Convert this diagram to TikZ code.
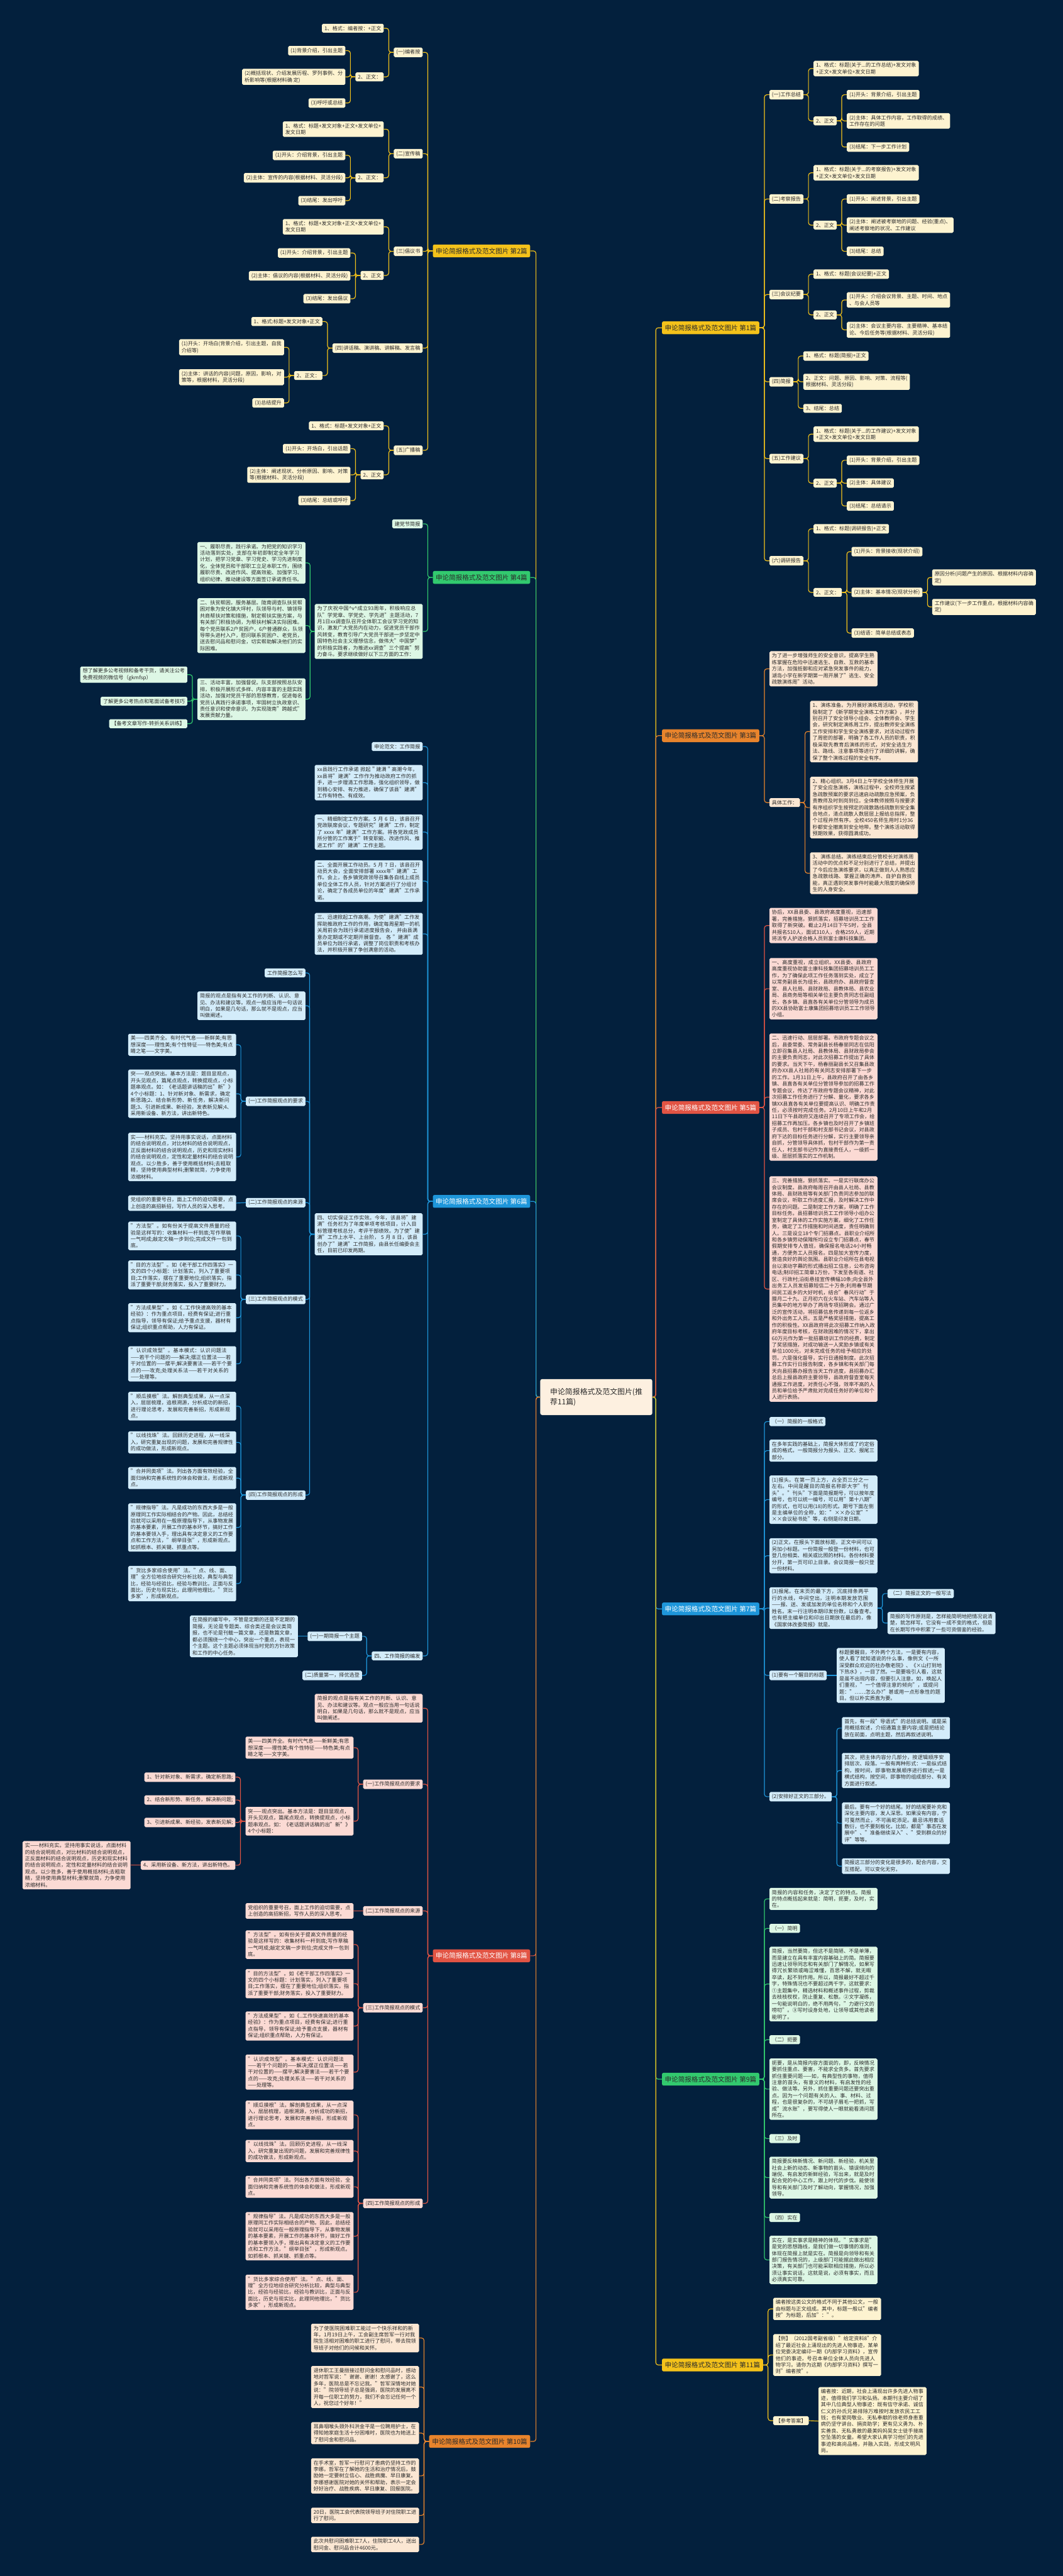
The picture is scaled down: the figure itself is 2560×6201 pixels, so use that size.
\documentclass[tikz,border=0pt]{standalone}
\usepackage{fontspec}
\setmainfont{Noto Sans CJK SC}
\usepackage{xcolor}
\usepackage{tikz}
\usetikzlibrary{calc, positioning}
\XeTeXlinebreaklocale "zh"
\XeTeXlinebreakskip=0pt plus 1pt
\definecolor{bgnavy}{HTML}{03203D}
\definecolor{ink}{HTML}{2B2B2B}
\definecolor{rootfill}{HTML}{FDF0E0}
\definecolor{ygold}{HTML}{F4C21A}
\definecolor{ycream}{HTML}{FDF3D0}
\definecolor{ggreen}{HTML}{32C96E}
\definecolor{gmint}{HTML}{DDF7E5}
\definecolor{bblue}{HTML}{1E96DA}
\definecolor{bsky}{HTML}{D3ECFA}
\definecolor{rred}{HTML}{E25444}
\definecolor{rpink}{HTML}{FBDAD4}
\definecolor{oorange}{HTML}{E8842C}
\definecolor{opeach}{HTML}{FBE7D3}
\newcommand\leaf{\fontsize{12.3}{15.8}\selectfont}
\newcommand\headf{\fontsize{16}{20}\selectfont}
\newcommand\rootf{\fontsize{18}{24}\selectfont}
% texts used twice (第6篇 and 第8篇)
\newcommand\ptView{简报的观点是指有关工作的判断、认识、意见、办法和建议等。观点一般应当用一句话说明白，如果是几句话，那么就不是观点，应当叫做阐述。}
\newcommand\ptMei{美——四美齐全。有时代气息——新鲜美;有思想深度——理性美;有个性特征——特色美;有点睛之笔——文字美。}
\newcommand\ptShi{实——材料充实。坚持用事实说话，点面材料的结合说明观点，对比材料的结合说明观点，正反面材料的结合说明观点，历史和现实材料的结合说明观点，定性和定量材料的结合说明观点。以少胜多，善于使用概括材料;去粗取精，坚持使用典型材料;删繁就简，力争使用浓缩材料。}
\newcommand\ptSource{党组织的重要号召，面上工作的迫切需要，点上创造的高招新招，写作人员的深入思考。}
\newcommand\ptFa{"方法型"。如有份关于提高文件质量的经验是这样写的：收集材料一杆到底;写作草稿一气呵成;敲定文稿一步到位;完成文件一包到底。}
\newcommand\ptMu{"目的方法型"。如《老干部工作四落实》一文的四个小标题：计划落实，列入了重要项目;工作落实，摆在了重要地位;组织落实，指派了重要干部;财务落实，投入了重要财力。}
\newcommand\ptCheng{"方法成果型"。如《..工作快速高效的基本经验》：作为重点项目，经费有保证;进行重点指导，领导有保证;给予重点支援，器材有保证;组织重点帮助，人力有保证。}
\newcommand\ptRen{"认识成效型"。基本模式：认识问题法——若干个问题的——解决;摆正位置法——若干对位置的——摆平;解决要害法——若干个要点的——攻克;处理关系法——若干对关系的——处理等。}
\newcommand\ptGua{"顺瓜摸根"法。解剖典型成果，从一点深入，层层梳理，追根溯源，分析成功的新招，进行理论思考，发展和完善新招，形成新观点。}
\newcommand\ptXian{"以线找珠"法。回顾历史进程，从一线深入，研究重复出现的问题，发展和完善规律性的成功做法，形成新观点。}
\newcommand\ptHe{"合并同类项"法。列出各方面有效经验，全面归纳和完善系统性的体会和做法，形成新观点。}
\newcommand\ptGui{"规律指导"法。凡是成功的东西大多是一般原理同工作实际相结合的产物。因此，总结经验就可以采用在一般原理指导下，从事物发展的基本要素，开展工作的基本环节，搞好工作的基本要领入手，理出具有决定意义的工作要点和工作方法，"纲举目张"，形成新观点。如抓根本、抓关键、抓重点等。}
\newcommand\ptHuo{"货比多家综合使用"法。"点、线、面、理"全方位地综合研究分析比较，典型与典型比，经验与经验比，经验与教训比，正面与反面比，历史与现实比，此理同他理比，"货比多家"，形成新观点。}

\begin{document}
\begin{tikzpicture}[x=1pt, y=-1pt,
    card/.style={rounded corners=3pt, inner xsep=6pt, inner ysep=5pt, align=left, text=ink, font=\leaf},
    wide/.style={text width=248pt},
    ycard/.style={card, fill=ycream},
    gcard/.style={card, fill=gmint},
    bcard/.style={card, fill=bsky},
    rcard/.style={card, fill=rpink},
    ocard/.style={card, fill=opeach},
    head/.style={rounded corners=4pt, inner xsep=7pt, inner ysep=8pt, font=\headf},
    yhead/.style={head, fill=ygold, text=ink},
    ghead/.style={head, fill=ggreen, text=ink},
    bhead/.style={head, fill=bblue, text=white},
    rhead/.style={head, fill=rred, text=white},
    ohead/.style={head, fill=oorange, text=ink},
    rootnode/.style={rounded corners=5pt, fill=rootfill, text=ink, font=\rootf, align=left, inner xsep=24pt, inner ysep=22pt},
    wire/.style={line width=1.8pt, rounded corners=6pt},
    ywire/.style={wire, draw=ygold},
    gwire/.style={wire, draw=ggreen},
    bwire/.style={wire, draw=bblue},
    rwire/.style={wire, draw=rred},
    owire/.style={wire, draw=oorange},
    lft/.style={anchor=east},
    rgt/.style={anchor=west}]

    \useasboundingbox (0,0) rectangle (2560,6201);
    \fill[bgnavy] (0,0) rectangle (2560,6201);

    % 中心
    \node[rootnode] (root) at (1436,3363) {申论简报格式及范文图片(推\\荐11篇)};

    % 各篇
    \node[yhead, lft] (b2) at (1277,604) {申论简报格式及范文图片 第2篇};
    \node[ghead, lft] (b4) at (1277,1390) {申论简报格式及范文图片 第4篇};
    \node[bhead, lft] (b6) at (1277,2892) {申论简报格式及范文图片 第6篇};
    \node[rhead, lft] (b8) at (1277,4708) {申论简报格式及范文图片 第8篇};
    \node[ohead, lft] (b10) at (1277,5877) {申论简报格式及范文图片 第10篇};
    \node[yhead, rgt] (b1) at (1594,789) {申论简报格式及范文图片 第1篇};
    \node[ohead, rgt] (b3) at (1594,1771) {申论简报格式及范文图片 第3篇};
    \node[rhead, rgt] (b5) at (1594,2666) {申论简报格式及范文图片 第5篇};
    \node[bhead, rgt] (b7) at (1594,3873) {申论简报格式及范文图片 第7篇};
    \node[ghead, rgt] (b9) at (1594,5005) {申论简报格式及范文图片 第9篇};
    \node[yhead, rgt] (b11) at (1594,5693) {申论简报格式及范文图片 第11篇};

    \draw[ywire] (root.west) -- ++(-10,0) |- (b2.east);
    \draw[gwire] (root.west) -- ++(-10,0) |- (b4.east);
    \draw[bwire] (root.west) -- ++(-10,0) |- (b6.east);
    \draw[rwire] (root.west) -- ++(-10,0) |- (b8.east);
    \draw[owire] (root.west) -- ++(-10,0) |- (b10.east);
    \draw[ywire] (root.east) -- ++(8,0) |- (b1.west);
    \draw[owire] (root.east) -- ++(8,0) |- (b3.west);
    \draw[rwire] (root.east) -- ++(8,0) |- (b5.west);
    \draw[bwire] (root.east) -- ++(8,0) |- (b7.west);
    \draw[gwire] (root.east) -- ++(8,0) |- (b9.west);
    \draw[ywire] (root.east) -- ++(8,0) |- (b11.west);

    % 第2篇
    \node[ycard, lft] (b2a) at ([xshift=-24pt]b2.west |- 0,126) {(一)编者按};
    \node[ycard, lft] (b2b) at ([xshift=-24pt]b2.west |- 0,370) {(二)宣传稿};
    \node[ycard, lft] (b2c) at ([xshift=-24pt]b2.west |- 0,605) {(三)倡议书};
    \node[ycard, lft] (b2d) at ([xshift=-24pt]b2.west |- 0,838) {(四)讲话稿、演讲稿、讲解稿、发言稿};
    \node[ycard, lft] (b2e) at ([xshift=-24pt]b2.west |- 0,1084) {(五)广播稿};
    \foreach \k in {b2a,b2b,b2c,b2d,b2e}
        \draw[ywire] (b2.west) -- ++(-12,0) |- (\k.east);

    \node[ycard, lft] (b2a1) at ([xshift=-24pt]b2a.west |- 0,68) {1、格式：编者按：+正文};
    \node[ycard, lft] (b2a2) at ([xshift=-24pt]b2a.west |- 0,185) {2、正文：};
    \node[ycard, lft] (b2a2a) at ([xshift=-24pt]b2a2.west |- 0,122) {(1)背景介绍，引出主题};
    \node[ycard, lft] (b2a2b) at ([xshift=-24pt]b2a2.west |- 0,185) {(2)概括现状、介绍发展历程、罗列事例、分\\析影响等(根据材料确 定)};
    \node[ycard, lft] (b2a2c) at ([xshift=-24pt]b2a2.west |- 0,248) {(3)呼吁或总结};

    \node[ycard, lft] (b2b1) at ([xshift=-24pt]b2b.west |- 0,311) {1、格式：标题+发文对象+正文+发文单位+\\发文日期};
    \node[ycard, lft] (b2b2) at ([xshift=-24pt]b2b.west |- 0,428) {2、正文：};
    \node[ycard, lft] (b2b2a) at ([xshift=-24pt]b2b2.west |- 0,374) {(1)开头：介绍背景，引出主题};
    \node[ycard, lft] (b2b2b) at ([xshift=-24pt]b2b2.west |- 0,428) {(2)主体：宣传的内容(根据材料、灵活分段)};
    \node[ycard, lft] (b2b2c) at ([xshift=-24pt]b2b2.west |- 0,483) {(3)结尾：发出呼吁};

    \node[ycard, lft] (b2c1) at ([xshift=-24pt]b2c.west |- 0,546) {1、格式：标题+发文对象+正文+发文单位+\\发文日期};
    \node[ycard, lft] (b2c2) at ([xshift=-24pt]b2c.west |- 0,663) {2、正文};
    \node[ycard, lft] (b2c2a) at ([xshift=-24pt]b2c2.west |- 0,609) {(1)开头：介绍背景，引出主题};
    \node[ycard, lft] (b2c2b) at ([xshift=-24pt]b2c2.west |- 0,664) {(2)主体：倡议的内容(根据材料、灵活分段)};
    \node[ycard, lft] (b2c2c) at ([xshift=-24pt]b2c2.west |- 0,719) {(3)结尾：发出倡议};

    \node[ycard, lft] (b2d1) at ([xshift=-24pt]b2d.west |- 0,774) {1、格式:标题+发文对象+正文};
    \node[ycard, lft] (b2d2) at ([xshift=-24pt]b2d.west |- 0,904) {2、正文：};
    \node[ycard, lft] (b2d2a) at ([xshift=-24pt]b2d2.west |- 0,836) {(1)开头：开场白(背景介绍，引出主题，自我\\介绍等)};
    \node[ycard, lft] (b2d2b) at ([xshift=-24pt]b2d2.west |- 0,908) {(2)主体：讲话的内容(问题，原因，影响，对\\策等，根据材料，灵活分段)};
    \node[ycard, lft] (b2d2c) at ([xshift=-24pt]b2d2.west |- 0,970) {(3)总结提升};

    \node[ycard, lft] (b2e1) at ([xshift=-24pt]b2e.west |- 0,1025) {1、格式：标题+发文对象+正文};
    \node[ycard, lft] (b2e2) at ([xshift=-24pt]b2e.west |- 0,1143) {2、正文};
    \node[ycard, lft] (b2e2a) at ([xshift=-24pt]b2e2.west |- 0,1080) {(1)开头：开场白，引出话题};
    \node[ycard, lft] (b2e2b) at ([xshift=-24pt]b2e2.west |- 0,1143) {(2)主体：阐述现状、分析原因、影响、对策\\等(根据材料、灵活分段)};
    \node[ycard, lft] (b2e2c) at ([xshift=-24pt]b2e2.west |- 0,1205) {(3)结尾：总结或呼吁};

    \foreach \p in {b2a,b2b,b2c,b2d,b2e}
        \foreach \q in {1,2}
            \draw[ywire] (\p.west) -- ++(-12,0) |- (\p\q.east);
    \foreach \p in {b2a2,b2b2,b2c2,b2d2,b2e2}
        \foreach \q in {a,b,c}
            \draw[ywire] (\p.west) -- ++(-12,0) |- (\p\q.east);

    % 第4篇
    \node[gcard, lft] (b4a) at ([xshift=-24pt]b4.west |- 0,1261) {建党节简报};
    \node[gcard, lft, wide] (b4b) at ([xshift=-24pt]b4.west |- 0,1520) {为了庆祝中国\textasciicircum{}v\textasciicircum{}成立93周年，积极响应总队"学党章、学党史、学先进"主题活动，7月1日xx调查队召开全体职工会议学习党的知识，激发广大党员内在动力，促进党员干部作风转变，教育引导广大党员干部进一步坚定中国特色社会主义理想信念，做伟大"中国梦"的积极实践者，为推进xx调查"三个提高"努力奋斗。要求继续做好以下三方面的工作：};
    \node[gcard, lft, wide] (b4b1) at ([xshift=-22pt]b4b.west |- 0,1355) {一、履职尽责，践行承诺。为把党的知识学习活动落到实处，支部在年初即制定全年学习计划，把学习党章、学习党史、学习先进制度化，全体党员和干部职工立足本职工作，围绕履职尽责、改进作风、提高效能、加强学习、组织纪律、推动建设等方面签订承诺责任书。};
    \node[gcard, lft, wide] (b4b2) at ([xshift=-22pt]b4b.west |- 0,1506) {二、扶贫帮困，服务基层。陇南调查队扶贫帮困对象为安化镇大坪村，队领导与村、镇领导共商帮扶对策和措施，制定帮扶实施方案，与有关部门积极协调，为帮扶村解决实际困难。每个党员联系2户贫困户，6户普通群众，队领导带头进村入户，慰问联系贫困户、老党员，送去慰问品和慰问金，切实帮助解决他们的实际困难。};
    \node[gcard, lft, wide] (b4b3) at ([xshift=-22pt]b4b.west |- 0,1683) {三、活动丰富，加强督促。队支部按照总队安排，积极开展形式多样、内容丰富的主题实践活动，加强对党员干部的思想教育，促进每名党员认真践行承诺事项，牢固树立执政意识、责任意识和使命意识。为实现陇南"跨越式"发展贡献力量。};
    \node[gcard, lft] (b4b3a) at ([xshift=-24pt]b4b3.west |- 0,1624) {想了解更多公考视频和备考干货，请关注公考\\免费视频的微信号（gkmfsp）};
    \node[gcard, lft] (b4b3b) at ([xshift=-24pt]b4b3.west |- 0,1688) {了解更多公考热点和笔面试备考技巧};
    \node[gcard, lft] (b4b3c) at ([xshift=-24pt]b4b3.west |- 0,1742) {【备考文章写作-转折关系训练】};
    \foreach \k in {b4a,b4b}
        \draw[gwire] (b4.west) -- ++(-12,0) |- (\k.east);
    \foreach \k in {b4b1,b4b2,b4b3}
        \draw[gwire] (b4b.west) -- ++(-11,0) |- (\k.east);
    \foreach \k in {b4b3a,b4b3b,b4b3c}
        \draw[gwire] (b4b3.west) -- ++(-12,0) |- (\k.east);

    % 第6篇
    \node[bcard, lft] (b6a) at ([xshift=-24pt]b6.west |- 0,1797) {申论范文：工作简报};
    \node[bcard, lft, wide] (b6b) at ([xshift=-24pt]b6.west |- 0,1884) {xx县践行工作承诺 掀起＂建满＂高潮今年，xx县将"建满"工作作为推动政府工作的抓手，进一步理清工作思路，强化组织领导，做到精心安排、有力推进，确保了该县"建满"工作有特色、有成效。};
    \node[bcard, lft, wide] (b6c) at ([xshift=-24pt]b6.west |- 0,2003) {一、精细制定工作方案。5 月 6 日，该县召开党政联席会议，专题研究"建满"工作，制定了 xxxx 年"建满"工作方案。将各党政成员所分管的工作寓于"转变职能、改进作风、推进工作"的"建满"工作主题。};
    \node[bcard, lft, wide] (b6d) at ([xshift=-24pt]b6.west |- 0,2121) {二、全面开展工作动员。5 月 7 日，该县召开动员大会，全面安排部署 xxxx年"建满"工作。会上，各乡镇党政领导召集各自线上成员单位全体工作人员，针对方案进行了分组讨论，确定了各成员单位的年度"建满"工作承诺。};
    \node[bcard, lft, wide] (b6e) at ([xshift=-24pt]b6.west |- 0,2248) {三、迅速掀起工作高潮。为使"建满"工作发挥助推政府工作的作用，确定每周星期一的机关周前会为践行承诺进度报告会， 并由县满意办定期或不定期开展督查。 各 "建满"成员单位为践行承诺，调整了岗位职责和考核办法，并积极开展了争创满意的活动。};
    \node[bcard, lft, wide] (b6f) at ([xshift=-24pt]b6.west |- 0,2971) {四、切实保证工作实效。今年，该县将"建满"任务栏为了年度单项考核项目，计入目标管理考核总分，考评干部绩效。为了使"建满"工作上水平、上台阶， 5 月 8 日，该县创办了"建满"工作简报，由县长任编委会主任，目前已印发两期。};
    \node[bcard, lft] (b6g) at ([xshift=-24pt]b6.west |- 0,3986) {四、工作简报的编发};
    \foreach \k in {b6a,b6b,b6c,b6d,b6e,b6f,b6g}
        \draw[bwire] (b6.west) -- ++(-12,0) |- (\k.east);

    \node[bcard, lft] (b6f1) at ([xshift=-22pt]b6f.west |- 0,2342) {工作简报怎么写};
    \node[bcard, lft, wide] (b6f2) at ([xshift=-22pt]b6f.west |- 0,2421) {\ptView};
    \node[bcard, lft] (b6f3) at ([xshift=-22pt]b6f.west |- 0,2651) {(一)工作简报观点的要求};
    \node[bcard, lft] (b6f4) at ([xshift=-22pt]b6f.west |- 0,2895) {(二)工作简报观点的来源};
    \node[bcard, lft] (b6f5) at ([xshift=-22pt]b6f.west |- 0,3128) {(三)工作简报观点的模式};
    \node[bcard, lft] (b6f6) at ([xshift=-22pt]b6f.west |- 0,3599) {(四)工作简报观点的形成};
    \foreach \k in {b6f1,b6f2,b6f3,b6f4,b6f5,b6f6}
        \draw[bwire] (b6f.west) -- ++(-12,0) |- (\k.east);

    \node[bcard, lft, wide] (b6f3a) at ([xshift=-23pt]b6f3.west |- 0,2515) {\ptMei};
    \node[bcard, lft, wide] (b6f3b) at ([xshift=-23pt]b6f3.west |- 0,2633) {突——观点突出。基本方法是：题目显观点，开头见观点，篇尾点观点，转换提观点，小标题串观点。如：《老话题讲话稿的出"新"》4个小标题：1、针对新对象、新需求，确定新思路;2、结合新形势、新任务，解决新问题;3、引进新成果、新经验，发表新见解;4、采用新设备、新方法，讲出新特色。};
    \node[bcard, lft, wide] (b6f3c) at ([xshift=-23pt]b6f3.west |- 0,2785) {\ptShi};
    \node[bcard, lft, wide] (b6f4a) at ([xshift=-23pt]b6f4.west |- 0,2896) {\ptSource};
    \node[bcard, lft, wide] (b6f5a) at ([xshift=-23pt]b6f5.west |- 0,2975) {\ptFa};
    \node[bcard, lft, wide] (b6f5b) at ([xshift=-23pt]b6f5.west |- 0,3069) {\ptMu};
    \node[bcard, lft, wide] (b6f5c) at ([xshift=-23pt]b6f5.west |- 0,3172) {\ptCheng};
    \node[bcard, lft, wide] (b6f5d) at ([xshift=-23pt]b6f5.west |- 0,3283) {\ptRen};
    \node[bcard, lft, wide] (b6f6a) at ([xshift=-23pt]b6f6.west |- 0,3385) {\ptGua};
    \node[bcard, lft, wide] (b6f6b) at ([xshift=-23pt]b6f6.west |- 0,3472) {\ptXian};
    \node[bcard, lft, wide] (b6f6c) at ([xshift=-23pt]b6f6.west |- 0,3558) {\ptHe};
    \node[bcard, lft, wide] (b6f6d) at ([xshift=-23pt]b6f6.west |- 0,3677) {\ptGui};
    \node[bcard, lft, wide] (b6f6e) at ([xshift=-23pt]b6f6.west |- 0,3812) {\ptHuo};
    \foreach \k in {b6f3a,b6f3b,b6f3c}
        \draw[bwire] (b6f3.west) -- ++(-12,0) |- (\k.east);
    \draw[bwire] (b6f4.west) -- (b6f4a.east);
    \foreach \k in {b6f5a,b6f5b,b6f5c,b6f5d}
        \draw[bwire] (b6f5.west) -- ++(-12,0) |- (\k.east);
    \foreach \k in {b6f6a,b6f6b,b6f6c,b6f6d,b6f6e}
        \draw[bwire] (b6f6.west) -- ++(-12,0) |- (\k.east);

    \node[bcard, lft] (b6g1) at ([xshift=-23pt]b6g.west |- 0,3939) {(一)一期简报一个主题};
    \node[bcard, lft] (b6g2) at ([xshift=-23pt]b6g.west |- 0,4033) {(二)质量第一，择优选登};
    \node[bcard, lft, wide] (b6g1a) at ([xshift=-23pt]b6g1.west |- 0,3939) {在简报的编写中，不管是定期的还是不定期的简报，无论是专题类、综合类还是会议类简报，也不论是刊载一篇文章，还是数篇文章，都必须围绕一个中心，突出一个重点，表现一个主题。这个主题必须体现当时党的方针政策和工作的中心任务。};
    \foreach \k in {b6g1,b6g2}
        \draw[bwire] (b6g.west) -- ++(-12,0) |- (\k.east);
    \draw[bwire] (b6g1.west) -- (b6g1a.east);

    % 第8篇
    \node[rcard, lft, wide] (b8a) at ([xshift=-24pt]b8.west |- 0,4112) {\ptView};
    \node[rcard, lft] (b8b) at ([xshift=-24pt]b8.west |- 0,4295) {(一)工作简报观点的要求};
    \node[rcard, lft] (b8c) at ([xshift=-24pt]b8.west |- 0,4600) {(二)工作简报观点的来源};
    \node[rcard, lft] (b8d) at ([xshift=-24pt]b8.west |- 0,4833) {(三)工作简报观点的模式};
    \node[rcard, lft] (b8e) at ([xshift=-24pt]b8.west |- 0,5304) {(四)工作简报观点的形成};
    \foreach \k in {b8a,b8b,b8c,b8d,b8e}
        \draw[rwire] (b8.west) -- ++(-12,0) |- (\k.east);

    \node[rcard, lft, wide] (b8b1) at ([xshift=-23pt]b8b.west |- 0,4207) {\ptMei};
    \node[rcard, lft, wide] (b8b2) at ([xshift=-23pt]b8b.west |- 0,4384) {突——观点突出。基本方法是：题目显观点，开头见观点，篇尾点观点，转换提观点，小标题串观点。如：《老话题讲话稿的出"新"》4个小标题：};
    \node[rcard, lft] (b8b2a) at ([xshift=-24pt]b8b2.west |- 0,4278) {1、针对新对象、新需求，确定新思路;};
    \node[rcard, lft] (b8b2b) at ([xshift=-24pt]b8b2.west |- 0,4333) {2、结合新形势、新任务，解决新问题;};
    \node[rcard, lft] (b8b2c) at ([xshift=-24pt]b8b2.west |- 0,4387) {3、引进新成果、新经验，发表新见解;};
    \node[rcard, lft] (b8b2d) at ([xshift=-24pt]b8b2.west |- 0,4490) {4、采用新设备、新方法，讲出新特色。};
    \node[rcard, lft, wide] (b8b2d1) at ([xshift=-24pt]b8b2d.west |- 0,4490) {\ptShi};
    \foreach \k in {b8b1,b8b2}
        \draw[rwire] (b8b.west) -- ++(-12,0) |- (\k.east);
    \foreach \k in {b8b2a,b8b2b,b8b2c,b8b2d}
        \draw[rwire] (b8b2.west) -- ++(-12,0) |- (\k.east);
    \draw[rwire] (b8b2d.west) -- (b8b2d1.east);

    \node[rcard, lft, wide] (b8c1) at ([xshift=-23pt]b8c.west |- 0,4600) {\ptSource};
    \draw[rwire] (b8c.west) -- (b8c1.east);

    \node[rcard, lft, wide] (b8d1) at ([xshift=-23pt]b8d.west |- 0,4681) {\ptFa};
    \node[rcard, lft, wide] (b8d2) at ([xshift=-23pt]b8d.west |- 0,4775) {\ptMu};
    \node[rcard, lft, wide] (b8d3) at ([xshift=-23pt]b8d.west |- 0,4877) {\ptCheng};
    \node[rcard, lft, wide] (b8d4) at ([xshift=-23pt]b8d.west |- 0,4988) {\ptRen};
    \foreach \k in {b8d1,b8d2,b8d3,b8d4}
        \draw[rwire] (b8d.west) -- ++(-12,0) |- (\k.east);

    \node[rcard, lft, wide] (b8e1) at ([xshift=-23pt]b8e.west |- 0,5091) {\ptGua};
    \node[rcard, lft, wide] (b8e2) at ([xshift=-23pt]b8e.west |- 0,5178) {\ptXian};
    \node[rcard, lft, wide] (b8e3) at ([xshift=-23pt]b8e.west |- 0,5264) {\ptHe};
    \node[rcard, lft, wide] (b8e4) at ([xshift=-23pt]b8e.west |- 0,5383) {\ptGui};
    \node[rcard, lft, wide] (b8e5) at ([xshift=-23pt]b8e.west |- 0,5518) {\ptHuo};
    \foreach \k in {b8e1,b8e2,b8e3,b8e4,b8e5}
        \draw[rwire] (b8e.west) -- ++(-12,0) |- (\k.east);

    % 第10篇
    \node[ocard, lft, wide] (b10a) at ([xshift=-24pt]b10.west |- 0,5628) {为了使医院困难职工能过一个快乐祥和的新年，1月19日上午，工会副主席哲军一行对我院生活相对困难的职工进行了慰问，带去院领导班子对他们的问候和关怀。};
    \node[ocard, lft, wide] (b10b) at ([xshift=-24pt]b10.west |- 0,5746) {退休职工王曼丽接过慰问金和慰问品时，感动地对哲军说："谢谢、谢谢！太感谢了，这么多年，医院总是不忘记我。"哲军深情地对她说："院领导班子总是强调，医院的发展离不开每一位职工的努力，我们不会忘记任何一个人，祝您过个好年！"};
    \node[ocard, lft, wide] (b10c) at ([xshift=-24pt]b10.west |- 0,5857) {耳鼻咽喉头颈外科洪金平是一位聘用护士，在得知她家庭生活十分困难时，医院也为她送上了慰问金和慰问品。};
    \node[ocard, lft, wide] (b10d) at ([xshift=-24pt]b10.west |- 0,5960) {在手术室，哲军一行慰问了患病仍坚持工作的李娜。哲军在了解她的生活和治疗情况后，鼓励她一定要树立信心、战胜病魔、早日康复。李娜感谢医院对她的关怀和帮助，表示一定会好好治疗、战胜疾病、早日康复、回报医院。};
    \node[ocard, lft, wide] (b10e) at ([xshift=-24pt]b10.west |- 0,6055) {20日，医院工会代表院领导班子对住院职工进行了慰问。};
    \node[ocard, lft, wide] (b10f) at ([xshift=-24pt]b10.west |- 0,6125) {此次共慰问困难职工7人，住院职工4人，送出慰问金、慰问品合计4600元。};
    \foreach \k in {b10a,b10b,b10c,b10d,b10e,b10f}
        \draw[owire] (b10.west) -- ++(-12,0) |- (\k.east);

    % 第1篇
    \node[ycard, rgt] (b1a) at ([xshift=24pt]b1.east |- 0,228) {(一)工作总结};
    \node[ycard, rgt] (b1b) at ([xshift=24pt]b1.east |- 0,479) {(二)考察报告};
    \node[ycard, rgt] (b1c) at ([xshift=24pt]b1.east |- 0,709) {(三)会议纪要};
    \node[ycard, rgt] (b1d) at ([xshift=24pt]b1.east |- 0,919) {(四)简报};
    \node[ycard, rgt] (b1e) at ([xshift=24pt]b1.east |- 0,1104) {(五)工作建议};
    \node[ycard, rgt] (b1f) at ([xshift=24pt]b1.east |- 0,1350) {(六)调研报告};
    \foreach \k in {b1a,b1b,b1c,b1d,b1e,b1f}
        \draw[ywire] (b1.east) -- ++(12,0) |- (\k.west);

    \node[ycard, rgt] (b1a1) at ([xshift=24pt]b1a.east |- 0,165) {1、格式：标题(关于...的工作总结)+发文对象\\+正文+发文单位+发文日期};
    \node[ycard, rgt] (b1a2) at ([xshift=24pt]b1a.east |- 0,291) {2、正文};
    \node[ycard, rgt] (b1a2a) at ([xshift=24pt]b1a2.east |- 0,228) {(1)开头：背景介绍，引出主题};
    \node[ycard, rgt] (b1a2b) at ([xshift=24pt]b1a2.east |- 0,291) {(2)主体：具体工作内容，工作取得的成绩、\\工作存在的问题};
    \node[ycard, rgt] (b1a2c) at ([xshift=24pt]b1a2.east |- 0,354) {(3)结尾：下一步工作计划};

    \node[ycard, rgt] (b1b1) at ([xshift=24pt]b1b.east |- 0,416) {1、格式：标题(关于...的考察报告)+发文对象\\+正文+发文单位+发文日期};
    \node[ycard, rgt] (b1b2) at ([xshift=24pt]b1b.east |- 0,542) {2、正文};
    \node[ycard, rgt] (b1b2a) at ([xshift=24pt]b1b2.east |- 0,479) {(1)开头：阐述背景，引出主题};
    \node[ycard, rgt] (b1b2b) at ([xshift=24pt]b1b2.east |- 0,542) {(2)主体：阐述被考察地的问题、经验(重点)、\\阐述考察地的状况、工作建议};
    \node[ycard, rgt] (b1b2c) at ([xshift=24pt]b1b2.east |- 0,605) {(3)结尾：总结};

    \node[ycard, rgt] (b1c1) at ([xshift=24pt]b1c.east |- 0,660) {1、格式：标题(会议纪要)+正文};
    \node[ycard, rgt] (b1c2) at ([xshift=24pt]b1c.east |- 0,758) {2、正文};
    \node[ycard, rgt] (b1c2a) at ([xshift=24pt]b1c2.east |- 0,722) {(1)开头：介绍会议背景、主题、时间、地点\\、与会人员等};
    \node[ycard, rgt] (b1c2b) at ([xshift=24pt]b1c2.east |- 0,794) {(2)主体：会议主要内容、主要精神、基本结\\论、今后任务等(根据材料、灵活分段)};

    \node[ycard, rgt] (b1d1) at ([xshift=24pt]b1d.east |- 0,857) {1、格式：标题(简报)+正文};
    \node[ycard, rgt] (b1d2) at ([xshift=24pt]b1d.east |- 0,919) {2、正文：问题、原因、影响、对策、流程等(\\根据材料、灵活分段)};
    \node[ycard, rgt] (b1d3) at ([xshift=24pt]b1d.east |- 0,983) {3、结尾：总结};

    \node[ycard, rgt] (b1e1) at ([xshift=24pt]b1e.east |- 0,1045) {1、格式：标题(关于...的工作建议)+发文对象\\+正文+发文单位+发文日期};
    \node[ycard, rgt] (b1e2) at ([xshift=24pt]b1e.east |- 0,1163) {2、正文};
    \node[ycard, rgt] (b1e2a) at ([xshift=24pt]b1e2.east |- 0,1108) {(1)开头：背景介绍，引出主题};
    \node[ycard, rgt] (b1e2b) at ([xshift=24pt]b1e2.east |- 0,1163) {(2)主体：具体建议};
    \node[ycard, rgt] (b1e2c) at ([xshift=24pt]b1e2.east |- 0,1218) {(3)结尾：总结请示};

    \node[ycard, rgt] (b1f1) at ([xshift=24pt]b1f.east |- 0,1273) {1、格式：标题(调研报告)+正文};
    \node[ycard, rgt] (b1f2) at ([xshift=24pt]b1f.east |- 0,1426) {2、正文：};
    \node[ycard, rgt] (b1f2a) at ([xshift=23pt]b1f2.east |- 0,1328) {(1)开头：背景接收(现状介绍)};
    \node[ycard, rgt] (b1f2b) at ([xshift=23pt]b1f2.east |- 0,1426) {(2)主体：基本情况(现状分析)};
    \node[ycard, rgt] (b1f2c) at ([xshift=23pt]b1f2.east |- 0,1524) {(3)结语：简单总结或表态};
    \node[ycard, rgt] (b1f2b1) at ([xshift=23pt]b1f2b.east |- 0,1390) {原因分析(问题产生的原因、根据材料内容确\\定)};
    \node[ycard, rgt] (b1f2b2) at ([xshift=23pt]b1f2b.east |- 0,1461) {工作建议(下一步工作重点，根据材料内容确\\定)};

    \foreach \p in {b1a,b1b,b1c,b1e,b1f}
        \foreach \q in {1,2}
            \draw[ywire] (\p.east) -- ++(12,0) |- (\p\q.west);
    \foreach \q in {1,2,3}
        \draw[ywire] (b1d.east) -- ++(12,0) |- (b1d\q.west);
    \foreach \p in {b1a2,b1b2,b1e2,b1f2}
        \foreach \q in {a,b,c}
            \draw[ywire] (\p.east) -- ++(12,0) |- (\p\q.west);
    \foreach \q in {a,b}
        \draw[ywire] (b1c2.east) -- ++(12,0) |- (b1c2\q.west);
    \foreach \q in {1,2}
        \draw[ywire] (b1f2b.east) -- ++(12,0) |- (b1f2b\q.west);

    % 第3篇
    \node[ocard, rgt, wide] (b3a) at ([xshift=24pt]b3.east |- 0,1610) {为了进一步增强师生的安全意识，提高学生熟练掌握在危险中迅速逃生、自救、互救的基本方法，加强抵御和应对紧急突发事件的能力，湖岛小学在新学期第一周开展了"逃生、安全疏散演练周"活动。};
    \node[ocard, rgt] (b3b) at ([xshift=24pt]b3.east |- 0,1932) {具体工作：};
    \node[ocard, rgt, wide] (b3b1) at ([xshift=24pt]b3b.east |- 0,1761) {1、演练准备。为开展好演练周活动，学校积极制定了《新学期安全演练工作方案》，并分别召开了安全领导小组会、全体教师会、学生会，研究制定演练周工作，提出教师安全演练工作安排和学生安全演练要求，对活动过程作了周密的部署，明确了各工作人员的职责，积极采取先教育后演练的形式，对安全逃生方法、路线、注意事项等进行了详细的讲解，确保了整个演练过程的安全有序。};
    \node[ocard, rgt, wide] (b3b2) at ([xshift=24pt]b3b.east |- 0,1944) {2、精心组织。3月4日上午学校全体师生开展了安全应急演练，演练过程中，全校师生按紧急疏散预案的要求迅速启动疏散应急预案，负责教师及时到岗到位。全体教师按照与按要求有序组织学生按预定的疏散路线疏散到安全集合地点，清点疏散人数层层上报给总指挥，整个过程井然有序。全校450名师生用时1分36秒都安全撤离到安全地带。整个演练活动取得预期效果，获得圆满成功。};
    \node[ocard, rgt, wide] (b3b3) at ([xshift=24pt]b3b.east |- 0,2102) {3、演练总结。演练结束后分管校长对演练周活动中的优点和不足分别进行了总结，并提出了今后应急演练要求，以真正做到人人熟悉应急疏散线路、掌握正确的涛声、自护自救技能，真正遇到突发事件时能最大限度的确保师生的人身安全。};
    \foreach \k in {b3a,b3b}
        \draw[owire] (b3.east) -- ++(12,0) |- (\k.west);
    \foreach \k in {b3b1,b3b2,b3b3}
        \draw[owire] (b3b.east) -- ++(12,0) |- (\k.west);

    % 第5篇
    \node[rcard, rgt, wide] (b5a) at ([xshift=24pt]b5.east |- 0,2228) {协后，XX县县委、县政府高度重视，迅速部署，完善措施，狠抓落实，招募培训员工工作取得了新突破。截止2月14日下午5时，全县共报名510人，面试310人，合格259人，近期将派专人护送合格人员到富士康科技集团。};
    \node[rcard, rgt, wide] (b5b) at ([xshift=24pt]b5.east |- 0,2380) {一、高度重视，成立组织。XX县委、县政府高度重视协助富士康科技集团招募培训员工工作，为了确保此项工作任务落到实处，成立了以常务副县长为组长，县政府办、县政府督查室、县人社局、县财政局、县教体局、县农业局、县商务局等相关单位主要负责同志任副组长，各乡镇、县直各有关单位分管领导为成员的XX县协助富士康集团招募培训员工工作领导小组。};
    \node[rcard, rgt, wide] (b5c) at ([xshift=24pt]b5.east |- 0,2641) {二、迅速行动、层层部署。市政府专题会议之后，县委常委、常务副县长杨春丽同志在信阳立即召集县人社局、县教体局、县财政局参会的主要负责同志，对此次招募工作提出了具体的要求。当天下午，杨春丽副县长又召集县政府办XX县人社局的有关同志安排部署下一步的工作。1月31日上午，县政府召开了由各乡镇、县直各有关单位分管领导参加的招募工作专题会议，传达了市政府专题会议精神，对此次招募工作任务进行了分解、量化，要求各乡镇XX县直各有关单位要提高认识、明确工作责任，必须按时完成任务。2月10日上午和2月11日下午县政府又连续召开了专项工作会，给招募工作再加压。各乡镇也及时召开了乡镇班子成员、包村干部和村支部书记会议，对县政府下达的目标任务进行分解，实行主要领导亲自抓，分管领导具体抓，包村干部作为第一责任人，村支部书记作为直接责任人，一级抓一级、层层抓落实的工作机制。};
    \node[rcard, rgt, wide] (b5d) at ([xshift=24pt]b5.east |- 0,3103) {三、完善措施，狠抓落实。一是实行联席办公会议制度。县政府每周召开由县人社局、县教体局、县财政局等有关部门负责同志参加的联席会议，听取工作进度汇报，及时解决工作中存在的问题。二是制定工作方案，明确了工作目标任务。县招募培训员工工作领导小组办公室制定了具体的工作实施方案，细化了工作任务，确定了工作措施和时间进度，责任明确到人。三是设立18个专门招募点。县职业介绍所和各乡镇劳动保障所均设立专门招募点，春节假期安排专人值班，确保报名电话24小时畅通，方便务工人员报名。四是加大宣传力度，营造良好的舆论氛围。县职业介绍所在县电视台以滚动字幕的形式播出招工信息，公布咨询电话;制印招工简章1万份，下发至各街道、社区、行政村;沿街悬挂宣传横幅10条;向全县外出务工人员发招募短信二十万条;利用春节期间民工返乡的大好时机，结合"春风行动"于腊月二十九、正月初六在火车站、汽车站等人员集中的地方举办了两场专项招聘会。通过广泛的宣传活动，将招募信息传递到每一位返乡和外出务工人员。五是严格奖惩措施，提高工作的积极性。XX县政府将此次招募工作纳入政府年度目标考核，在财政困难的情况下，拿出60万元作为第一批招募培训工作的经费，制定了奖惩措施，对成功输送一人奖励乡镇或有关单位1000元，对未完成任务的给予相应的处罚。六是强化督导，实行日通报制度。此次招募工作实行日报告制度，各乡镇和有关部门每天向县招募办报告当天工作进度，县招募办汇总后上报县政府主要领导，县政府督查室每天通报工作进度，对责任心不强，效率不高的人员和单位给予严肃批对完成任务好的单位和个人进行表扬。};
    \foreach \k in {b5a,b5b,b5c,b5d}
        \draw[rwire] (b5.east) -- ++(12,0) |- (\k.west);

    % 第7篇
    \node[bcard, rgt] (b7a) at ([xshift=24pt]b7.east |- 0,3422) {（一）简报的一般格式};
    \node[bcard, rgt, wide] (b7b) at ([xshift=24pt]b7.east |- 0,3492) {在多年实践的基础上，简报大体形成了约定俗成的格式。一般简报分为报头、正文、报尾三部分。};
    \node[bcard, rgt, wide] (b7c) at ([xshift=24pt]b7.east |- 0,3610) {(1)报头。在第一页上方，占全页三分之一左右。中间是醒目的简报名称即大字"刊头"。"刊头"下面是简报期号，可以按年度编号，也可以统一编号，可以用"第十八期"的形式，也可以用(18)的形式。期号下面左侧是主编单位的全称，如："××办公室""××会议秘书处"等，右侧是印发日期。};
    \node[bcard, rgt, wide] (b7d) at ([xshift=24pt]b7.east |- 0,3745) {(2)正文。在报头下面放标题，正文中间可以另加小标题。一份简报一般登一份材料，也可登几份相类、相关或比照的材料。各份材料要分开，第一页可印上目录。会议简报一般只登一份材料。};
    \node[bcard, rgt, wide] (b7e) at ([xshift=24pt]b7.east |- 0,3871) {(3)报尾。在末页的最下方，沉底排条两平行的水线，中间空出，注明本期发放范围——报、送、发或加发的单位名称和个人职务姓名。末一行注明本期印发份数，以备查考。也有把主编单位和印出日期放在最后的，像《国家体改委简报》就是。};
    \node[bcard, rgt] (b7f) at ([xshift=24pt]b7.east |- 0,4033) {(1)要有一个醒目的标题};
    \node[bcard, rgt] (b7g) at ([xshift=24pt]b7.east |- 0,4325) {(2)安排好正文的三部分。};
    \foreach \k in {b7a,b7b,b7c,b7d,b7e,b7f,b7g}
        \draw[bwire] (b7.east) -- ++(12,0) |- (\k.west);

    \node[bcard, rgt] (b7e1) at ([xshift=24pt]b7e.east |- 0,3836) {（二）简报正文的一般写法};
    \node[bcard, rgt, wide] (b7e2) at ([xshift=24pt]b7e.east |- 0,3907) {简报的写作原则是，怎样能简明地把情况说清楚，就怎样写。它没有一成不变的格式，但是在长期写作中积累了一些可资借鉴的经验。};
    \foreach \k in {b7e1,b7e2}
        \draw[bwire] (b7e.east) -- ++(12,0) |- (\k.west);
    \node[bcard, rgt, wide] (b7f1) at ([xshift=24pt]b7f.east |- 0,4033) {标题要醒目，不外两个方法，一是要有内容，使人看了就知道说的什么事，像例文《一所深受群众欢迎的社办敬老院》、《×山打到地下热水》，一目了然。一是要吸引人看，这就是虽不出现内容，但要引人注意。如，唤起人们重视，"一个值得注意的倾向"，或提问题："……怎么办?"甚或用一点形象性的题目。但以朴实质直为要。};
    \draw[bwire] (b7f.east) -- (b7f1.west);
    \node[bcard, rgt, wide] (b7g1) at ([xshift=24pt]b7g.east |- 0,4160) {首先，有一段"导语式"的总括说明。或是采用概括叙述，介绍通篇主要内容;或是把结论放在前面，点明主题，然后再叙述说明。};
    \node[bcard, rgt, wide] (b7g2) at ([xshift=24pt]b7g.east |- 0,4262) {其次，把主体内容分几部分，按逻辑顺序安排层次、段落。一般有两种形式：一是纵式结构，按时间，即事物发展顺序进行叙述;一是横式结构，按空间，即事物的组成部分、有关方面进行叙述。};
    \node[bcard, rgt, wide] (b7g3) at ([xshift=24pt]b7g.east |- 0,4389) {最后。要有一个好的结尾。好的结尾要补充和深化主要内容，发人深思。如果没有内容，宁可戛然而止，不可画蛇添足。最忌讳用套话敷衍，也不要刻板化，比如，都是"事态在发展中"、"准备继续深入"、"受到群众的好评"等等。};
    \node[bcard, rgt, wide] (b7g4) at ([xshift=24pt]b7g.east |- 0,4492) {简报这三部分的变化是很多的，配合内容，交互搭配，可以变化无穷。};
    \foreach \k in {b7g1,b7g2,b7g3,b7g4}
        \draw[bwire] (b7g.east) -- ++(12,0) |- (\k.west);

    % 第9篇
    \node[gcard, rgt, wide] (b9a) at ([xshift=24pt]b9.east |- 0,4571) {简报的内容和任务，决定了它的特点。简报的特点概括起来就是：简明，扼要，及时，实在。};
    \node[gcard, rgt] (b9b) at ([xshift=24pt]b9.east |- 0,4642) {（一）简明};
    \node[gcard, rgt, wide] (b9c) at ([xshift=24pt]b9.east |- 0,4776) {简报，当然要简，但这不是简陋、不是单薄，而是建立在具有丰富内容基础上的简。简报要迅速让领导同志和有关部门了解情况，如果写得冗长繁琐或晦涩难懂，百思不解，就无暇卒读，起不到作用。所以，简报最好不超过千字，特殊情况也不要超过两千字，这就要求：①主题集中，精选材料和概述事件过程，剪裁去枝枝杈杈，防止重复、松散。②文字凝练，一句能说明白的，绝不用两句，"力避行文的唠叨"。③写时设身处地，让领导或其他读者能明了。};
    \node[gcard, rgt] (b9d) at ([xshift=24pt]b9.east |- 0,4910) {（二）扼要};
    \node[gcard, rgt, wide] (b9e) at ([xshift=24pt]b9.east |- 0,5029) {扼要，是从简报内容方面说的，即，反映情况要抓住重点、要害，不能求全贪多。首先要求抓住重要问题——如，有典型性的事物，值得注意的苗头，有意义的材料，有启发性的经验、做法等。另外，抓住重要问题还要突出重点。因为一个问题有关的人、事、材料、过程，也是很复杂的，不可胡子眉毛一把抓，写成"流水账"，要写得使人一眼就能看清问题所在。};
    \node[gcard, rgt] (b9f) at ([xshift=24pt]b9.east |- 0,5148) {（三）及时};
    \node[gcard, rgt, wide] (b9g) at ([xshift=24pt]b9.east |- 0,5242) {简报要反映新情况、新问题、新经验，机关里社会上新的动态、新事物的苗头、错误倾向的端倪、有启发的新鲜经验，写出来，就是及时配合党的中心工作，跟上时代的步伐。能使领导和有关部门及时了解动向，掌握情况，加强领导。};
    \node[gcard, rgt] (b9h) at ([xshift=24pt]b9.east |- 0,5338) {（四）实在};
    \node[gcard, rgt, wide] (b9i) at ([xshift=24pt]b9.east |- 0,5440) {实在，是实事求是精神的体现。"实事求是"是党的思想路线，是我们做一切事情的准则，体现在简报上就是实在。简报是向领导和有关部门报告情况的，上级部门可能据此做出相应决策，有关部门也可能采取相应措施，所以必须让事实说话，这就是说，必须有事实，而且必须真实可靠。};
    \foreach \k in {b9a,b9b,b9c,b9d,b9e,b9f,b9g,b9h,b9i}
        \draw[gwire] (b9.east) -- ++(12,0) |- (\k.west);

    % 第11篇
    \node[ycard, rgt, wide] (b11a) at ([xshift=24pt]b11.east |- 0,5558) {编者按这类公文的格式不同于其他公文，一般由标题与正文组成。其中，标题一般以"编者按"为标题，后加"："。};
    \node[ycard, rgt, wide] (b11b) at ([xshift=24pt]b11.east |- 0,5669) {【例】（2012国考副省级）"给定资料8"介绍了最近社会上涌现出的先进人物事迹，某单位党委决定编印一期《内部学习资料》，宣传他们的事迹，号召本单位全体人员向先进人物学习。请你为这期《内部学习资料》撰写一则"编者按"。};
    \node[ycard, rgt] (b11c) at ([xshift=24pt]b11.east |- 0,5827) {【参考答案】};
    \node[ycard, rgt, wide] (b11c1) at ([xshift=23pt]b11c.east |- 0,5828) {编者按：近期，社会上涌现出许多先进人物事迹，值得我们学习和弘扬。本期刊主要介绍了其中几位典型人物事迹：既有信守承诺、诚信仁义的孙氏兄弟排除万难按时发放农民工工钱；也有爱岗敬业、无私奉献的徐老师身患重病仍坚守讲台、捐资助学；更有见义勇为、朴实善良、无私勇敢的最美妈妈吴女士徒手接高空坠落的女童。希望大家认真学习他们的先进事迹和高尚品格，并融入实践，形成文明风尚。};
    \foreach \k in {b11a,b11b,b11c}
        \draw[ywire] (b11.east) -- ++(12,0) |- (\k.west);
    \draw[ywire] (b11c.east) -- (b11c1.west);
\end{tikzpicture}
\end{document}
